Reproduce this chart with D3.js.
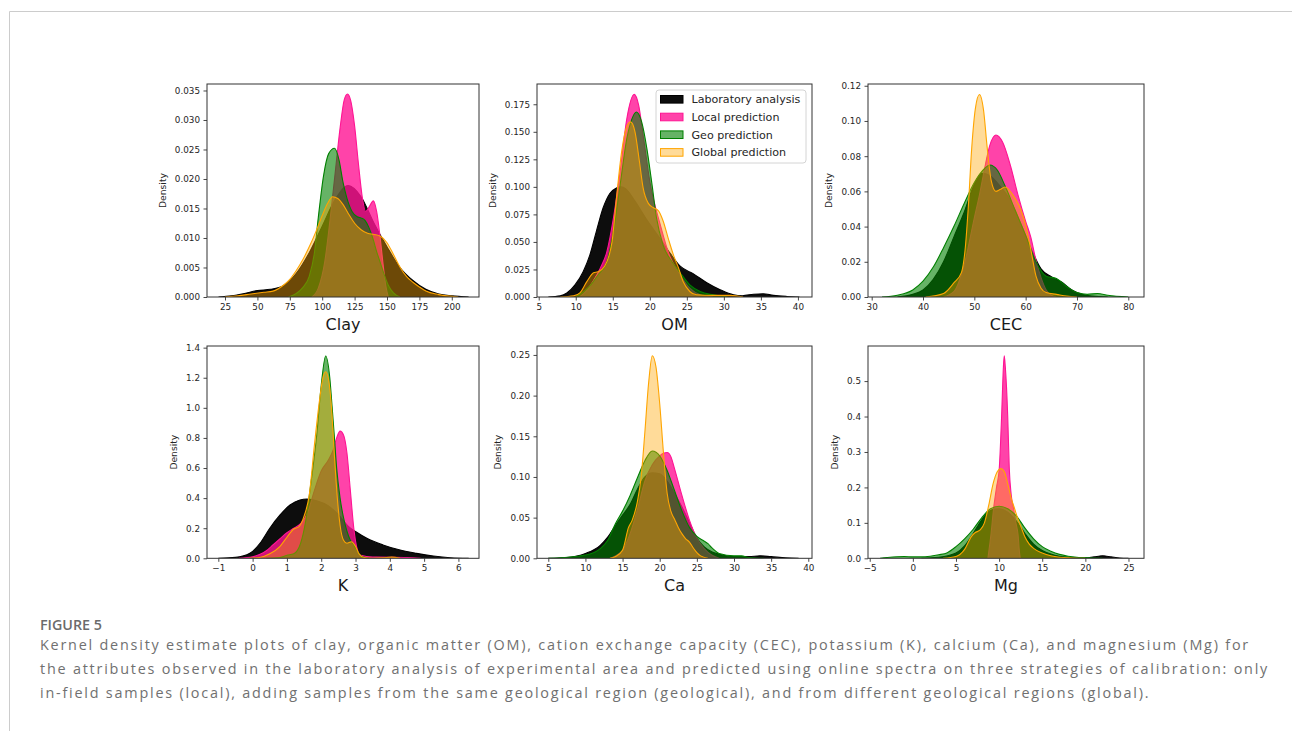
<!DOCTYPE html>
<html>
<head>
<meta charset="utf-8">
<script src="https://cdn.jsdelivr.net/npm/d3@7"></script>
<style>
  html, body { margin: 0; padding: 0; background: #fff; }
  svg { display: block; }
</style>
</head>
<body>
<svg id="chart" width="1292" height="731"></svg>
<script>
// ---------------- DATA ----------------
const seriesNames = ["Laboratory analysis", "Local prediction", "Geo prediction", "Global prediction"];
const attributes = ["Clay", "OM", "CEC", "K", "Ca", "Mg"];

// each array: [value, density]
const clayLab = [[20,0],[30,0.0002],[40,0.0006],[50,0.0011],[60,0.0013],[70,0.0019],[80,0.004],[90,0.0075],[100,0.012],[110,0.0165],[120,0.0189],[130,0.017],[140,0.0125],[150,0.0085],[160,0.005],[170,0.0028],[180,0.0013],[190,0.0005],[200,0.0002],[213,0]];
const clayLocal = [[92,0],[97,0.0015],[102,0.006],[106,0.013],[110,0.021],[114,0.029],[117,0.0334],[119.5,0.0344],[122,0.0333],[125,0.029],[128,0.0225],[131,0.0168],[133.5,0.0145],[136,0.0152],[139.5,0.0163],[142,0.0145],[144.5,0.0105],[147,0.0055],[149,0.002],[151,0]];
const clayGeo = [[74,0],[80,0.0006],[85,0.0016],[90,0.0035],[94,0.0075],[97,0.0135],[101,0.0205],[105,0.0243],[109.5,0.0252],[113,0.0232],[116,0.0195],[119,0.0168],[123,0.0145],[127,0.0136],[130,0.0134],[133,0.013],[136,0.0118],[139,0.01],[142,0.0077],[145,0.0057],[148,0.0037],[151,0.002],[155,0.0007],[160,0]];
const clayGlobal = [[25,0],[35,0.0002],[45,0.0005],[55,0.0008],[62,0.001],[70,0.002],[75,0.003],[80,0.0045],[85,0.0063],[90,0.0085],[95,0.011],[100,0.0138],[104,0.0158],[108,0.017],[112,0.0167],[116,0.0157],[120,0.0142],[125,0.0125],[130,0.0114],[135,0.0108],[140,0.0106],[145,0.0103],[150,0.0092],[155,0.0072],[160,0.0051],[165,0.0035],[170,0.0025],[175,0.0017],[180,0.001],[190,0.0004],[205,0]];

const omLab = [[6.3,0],[7.9,0.001],[8.8,0.0036],[9.9,0.011],[11,0.023],[11.9,0.038],[12.8,0.06],[13.7,0.081],[14.6,0.094],[15.5,0.099],[16.1,0.1],[16.8,0.098],[18,0.087],[19.6,0.07],[21.4,0.053],[22.5,0.042],[24.1,0.028],[25.9,0.021],[27.7,0.013],[29.5,0.0066],[31.3,0.002],[32.5,0.0012],[34,0.0025],[35.3,0.003],[36.7,0.0015],[38.5,0.0005],[40.2,0]];
const omLocal = [[10.5,0],[11.5,0.006],[12.4,0.015],[13.3,0.026],[14.2,0.041],[15.1,0.072],[16,0.114],[16.9,0.162],[17.9,0.184],[18.5,0.174],[19.1,0.147],[20,0.105],[21.4,0.066],[22.7,0.037],[24.1,0.02],[25.4,0.008],[26.8,0.002],[28.5,0]];
const omGeo = [[10,0],[11.9,0.01],[13,0.02],[14.2,0.032],[15.1,0.06],[16,0.102],[16.9,0.144],[17.6,0.162],[18.2,0.168],[18.9,0.159],[19.6,0.135],[20.3,0.102],[20.9,0.072],[21.8,0.047],[23,0.032],[24.1,0.022],[25.4,0.011],[26.8,0.005],[28.6,0.002],[30.5,0]];
const omGlobal = [[7.9,0],[9.7,0.001],[10.6,0.004],[11.5,0.014],[12.4,0.022],[13,0.023],[13.9,0.028],[14.9,0.05],[15.5,0.09],[16.2,0.132],[16.9,0.155],[17.4,0.159],[18,0.15],[18.6,0.123],[19.1,0.099],[19.8,0.085],[20.5,0.081],[21.2,0.078],[21.8,0.069],[22.5,0.053],[23.2,0.038],[23.9,0.026],[24.5,0.014],[25.4,0.005],[26.3,0.002],[28.6,0.0015],[30.8,0.0015],[32.6,0]];

const cecLab = [[35,0],[38,0.0015],[40,0.004],[42,0.01],[44,0.02],[46,0.034],[48,0.048],[50,0.064],[51.5,0.0703],[53,0.069],[55,0.063],[57,0.055],[59,0.042],[61,0.028],[63,0.016],[65,0.0115],[67,0.0085],[69,0.004],[71,0.0015],[73,0.0005],[76,0]];
const cecLocal = [[44,0],[46,0.003],[48,0.018],[50,0.045],[51,0.058],[52,0.073],[53,0.086],[54.2,0.092],[55.5,0.088],[57,0.075],[58.5,0.058],[60,0.043],[61,0.034],[62,0.021],[63,0.011],[64,0.004],[65,0.001],[66,0]];
const cecGeo = [[32,0],[35,0.001],[38,0.004],[40,0.009],[42,0.017],[44,0.028],[46,0.04],[48,0.053],[50,0.065],[52,0.073],[53,0.075],[54.5,0.072],[56,0.063],[58,0.049],[60,0.035],[62,0.02],[64,0.0118],[66,0.0105],[68,0.006],[70,0.0025],[72,0.0015],[74,0.002],[76,0.001],[80,0]];
const cecGlobal = [[40.5,0],[44,0.002],[46,0.008],[47.5,0.014],[48.3,0.03],[48.8,0.05],[49.5,0.085],[50.2,0.107],[51,0.115],[51.8,0.106],[52.5,0.085],[53.3,0.066],[54.2,0.06],[55,0.061],[56,0.0625],[57.5,0.058],[59,0.05],[60,0.041],[61,0.027],[62,0.012],[63,0.005],[64,0.0025],[66,0.0015],[68,0.0005],[70,0]];

const kLab = [[-1,0],[-0.5,0.006],[-0.08,0.033],[0.215,0.1],[0.5,0.2],[0.8,0.288],[1.09,0.354],[1.38,0.388],[1.58,0.394],[1.87,0.383],[2.2,0.35],[2.5,0.29],[2.8,0.21],[3.0,0.178],[3.33,0.133],[3.8,0.089],[4.3,0.055],[4.78,0.033],[5.27,0.0155],[5.76,0.004],[6.3,0]];
const kLocal = [[-0.4,0],[0,0.01],[0.2,0.025],[0.4,0.05],[0.6,0.09],[0.8,0.13],[1.0,0.17],[1.2,0.2],[1.4,0.23],[1.6,0.3],[1.8,0.45],[2.0,0.58],[2.2,0.65],[2.35,0.72],[2.45,0.8],[2.55,0.845],[2.65,0.82],[2.75,0.7],[2.85,0.45],[2.95,0.2],[3.05,0.06],[3.15,0.02],[3.5,0.008],[4.0,0.007],[4.5,0.005],[4.9,0]];
const kGeo = [[0.4,0],[0.8,0.005],[1.0,0.02],[1.2,0.03],[1.4,0.1],[1.55,0.25],[1.7,0.5],[1.87,0.82],[2.0,1.15],[2.13,1.345],[2.25,1.2],[2.32,1.0],[2.38,0.82],[2.45,0.6],[2.55,0.4],[2.65,0.27],[2.75,0.18],[2.85,0.12],[2.95,0.09],[3.05,0.05],[3.2,0.01],[3.4,0]];
const kGlobal = [[-0.1,0],[0.2,0.005],[0.5,0.03],[0.8,0.08],[1.0,0.14],[1.2,0.195],[1.35,0.21],[1.5,0.28],[1.65,0.42],[1.8,0.75],[1.95,1.05],[2.05,1.2],[2.13,1.24],[2.22,1.18],[2.3,1.0],[2.38,0.7],[2.47,0.4],[2.55,0.22],[2.65,0.12],[2.75,0.1],[2.88,0.11],[3.0,0.08],[3.1,0.03],[3.25,0.005],[3.5,0],[3.8,0.003],[4.05,0.008],[4.3,0]];

const caLab = [[5,0],[7.5,0.001],[10,0.006],[12,0.016],[13,0.026],[14,0.04],[15,0.053],[16,0.066],[17,0.085],[18,0.1],[19,0.105],[20,0.104],[21,0.095],[22,0.08],[23,0.063],[24,0.044],[25,0.025],[26,0.014],[27,0.008],[28,0.005],[30,0.002],[32,0.002],[33.5,0.003],[35,0.002],[37,0.0005],[38.7,0]];
const caLocal = [[13.3,0],[15,0.01],[16,0.03],[17,0.06],[18,0.095],[19,0.115],[20,0.126],[20.5,0.129],[21,0.13],[21.5,0.125],[22,0.11],[23,0.077],[24,0.047],[25,0.025],[26,0.012],[27,0.004],[28,0]];
const caGeo = [[5,0],[7,0.001],[10,0.004],[12,0.012],[13,0.022],[14,0.042],[15,0.058],[16,0.077],[17,0.099],[18,0.12],[19,0.132],[20,0.126],[21,0.108],[22,0.083],[23,0.058],[24,0.038],[25,0.027],[26,0.021],[26.5,0.018],[27,0.013],[28,0.006],[30,0.003],[31,0.003],[32,0.001],[34,0]];
const caGlobal = [[13.3,0],[14,0.002],[15,0.01],[15.8,0.038],[16.3,0.047],[17,0.07],[17.5,0.1],[18,0.155],[18.5,0.215],[19,0.249],[19.5,0.235],[20,0.19],[20.5,0.13],[21,0.08],[21.5,0.058],[22,0.048],[22.5,0.038],[23,0.03],[23.5,0.024],[24,0.02],[24.5,0.013],[25,0.007],[25.5,0.003],[26.5,0]];

const mgLab = [[1,0],[3,0.003],[5,0.015],[6,0.035],[7,0.07],[7.6,0.094],[8.4,0.122],[9.1,0.136],[10,0.14],[11,0.13],[12,0.105],[13,0.07],[14,0.04],[15,0.022],[16,0.012],[17,0.006],[18,0.003],[19,0.001],[20,0.001],[21,0.004],[22,0.007],[23,0.004],[24,0.001],[25,0]];
const mgLocal = [[8.7,0],[9.05,0.066],[9.36,0.14],[9.7,0.2],[10.02,0.254],[10.29,0.4],[10.5,0.54],[10.6,0.571],[10.72,0.54],[11.0,0.4],[11.18,0.254],[11.4,0.18],[11.68,0.14],[11.95,0.1],[12.2,0.066],[12.35,0.02],[12.45,0]];
const mgGeo = [[-3.8,0],[-3,0.002],[-1,0.005],[0,0.004],[1,0.004],[2,0.006],[3,0.01],[4,0.016],[5,0.033],[6,0.055],[7,0.082],[8,0.115],[9,0.14],[10,0.147],[11,0.14],[12,0.12],[13,0.085],[14,0.055],[15,0.033],[16,0.02],[17,0.011],[18,0.006],[19,0.003],[20,0.002],[21,0.0005],[22,0]];
const mgGlobal = [[3.5,0],[5,0.005],[6,0.025],[6.8,0.062],[7.2,0.072],[7.8,0.08],[8.3,0.1],[8.8,0.15],[9.3,0.21],[9.8,0.245],[10.2,0.253],[10.6,0.245],[11.0,0.21],[11.4,0.17],[11.8,0.14],[12.2,0.11],[12.6,0.085],[13,0.06],[13.5,0.04],[14,0.028],[15,0.015],[16,0.007],[17,0.003],[18.5,0.001],[20,0]];

// tick labels
const clayXTicks = [25,50,75,100,125,150,175,200];
const clayYTicks = [0,0.005,0.010,0.015,0.020,0.025,0.030,0.035];
const omXTicks = [5,10,15,20,25,30,35,40];
const omYTicks = [0,0.025,0.050,0.075,0.100,0.125,0.150,0.175];
const cecXTicks = [30,40,50,60,70,80];
const cecYTicks = [0,0.02,0.04,0.06,0.08,0.10,0.12];
const kXTicks = [-1,0,1,2,3,4,5,6];
const kYTicks = [0,0.2,0.4,0.6,0.8,1.0,1.2,1.4];
const caXTicks = [5,10,15,20,25,30,35,40];
const caYTicks = [0,0.05,0.10,0.15,0.20,0.25];
const mgXTicks = [-5,0,5,10,15,20,25];
const mgYTicks = [0,0.1,0.2,0.3,0.4,0.5];

const captionHead = "FIGURE 5";
const captionLines = [
  "Kernel density estimate plots of clay, organic matter (OM), cation exchange capacity (CEC), potassium (K), calcium (Ca), and magnesium (Mg) for",
  "the attributes observed in the laboratory analysis of experimental area and predicted using online spectra on three strategies of calibration: only",
  "in-field samples (local), adding samples from the same geological region (geological), and from different geological regions (global)."
];

// ---------------- LAYOUT / STYLE ----------------
const styles = [
  { color: "#000000", alpha: 0.95 },
  { color: "#ff1493", alpha: 0.8 },
  { color: "#008000", alpha: 0.6 },
  { color: "#ffa500", alpha: 0.4 }
];

const panels = [
  { title: attributes[0], series: [clayLab, clayLocal, clayGeo, clayGlobal], xDom: [11.1, 221], yMax: 0.0361, xTicks: clayXTicks, yTicks: clayYTicks, yFmt: ".3f", box: [207, 84, 479, 297] },
  { title: attributes[1], series: [omLab, omLocal, omGeo, omGlobal], xDom: [4.77, 41.9], yMax: 0.1934, xTicks: omXTicks, yTicks: omYTicks, yFmt: ".3f", box: [537, 84, 812, 297], legend: true },
  { title: attributes[2], series: [cecLab, cecLocal, cecGeo, cecGlobal], xDom: [29.28, 83.06], yMax: 0.121, xTicks: cecXTicks, yTicks: cecYTicks, yFmt: ".2f", box: [868, 84, 1144, 297] },
  { title: attributes[3], series: [kLab, kLocal, kGeo, kGlobal], xDom: [-1.33, 6.6], yMax: 1.411, xTicks: kXTicks, yTicks: kYTicks, yFmt: ".1f", box: [207, 346, 479, 558.3] },
  { title: attributes[4], series: [caLab, caLocal, caGeo, caGlobal], xDom: [3.48, 40.5], yMax: 0.261, xTicks: caXTicks, yTicks: caYTicks, yFmt: ".2f", box: [537, 346, 812, 558.3] },
  { title: attributes[5], series: [mgLab, mgLocal, mgGeo, mgGlobal], xDom: [-5.2, 26.8], yMax: 0.599, xTicks: mgXTicks, yTicks: mgYTicks, yFmt: ".1f", box: [868, 346, 1144, 558.3] }
];

const svg = d3.select("#chart");
const FONT = "'DejaVu Sans', sans-serif";
const AXIS = "#333333";

// page frame
svg.append("line").attr("x1", 9.5).attr("x2", 1292).attr("y1", 11.5).attr("y2", 11.5).attr("stroke", "#cccccc").attr("stroke-width", 1);
svg.append("line").attr("x1", 9.5).attr("x2", 9.5).attr("y1", 11.5).attr("y2", 731).attr("stroke", "#cccccc").attr("stroke-width", 1);

panels.forEach((p, pi) => {
  const [x0, y0, x1, y1] = p.box;
  const x = d3.scaleLinear().domain(p.xDom).range([x0, x1]);
  const y = d3.scaleLinear().domain([0, p.yMax]).range([y1, y0]);
  const g = svg.append("g");

  const clipId = "clip" + pi;
  g.append("clipPath").attr("id", clipId).append("rect")
    .attr("x", x0).attr("y", y0).attr("width", x1 - x0).attr("height", y1 - y0);

  const area = d3.area().x(d => x(d[0])).y0(y(0)).y1(d => y(d[1])).curve(d3.curveMonotoneX);
  const line = d3.line().x(d => x(d[0])).y(d => y(d[1])).curve(d3.curveMonotoneX);

  const plot = g.append("g").attr("clip-path", `url(#${clipId})`);
  p.series.forEach((s, si) => {
    const st = styles[si];
    plot.append("path").datum(s).attr("d", area)
      .attr("fill", st.color).attr("fill-opacity", st.alpha).attr("stroke", "none");
    plot.append("path").datum(s).attr("d", line)
      .attr("fill", "none").attr("stroke", st.color).attr("stroke-width", 1.1).attr("stroke-linejoin", "round");
  });

  // axes
  const xAxis = d3.axisBottom(x).tickValues(p.xTicks).tickSize(3.5).tickPadding(3).tickFormat(d3.format("d"));
  const yAxis = d3.axisLeft(y).tickValues(p.yTicks).tickSize(3.5).tickPadding(3.5).tickFormat(d3.format(p.yFmt));

  const gx = g.append("g").attr("transform", `translate(0,${y1})`).call(xAxis);
  const gy = g.append("g").attr("transform", `translate(${x0},0)`).call(yAxis);
  [gx, gy].forEach(ax => {
    ax.select(".domain").remove();
    ax.selectAll(".tick line").attr("stroke", AXIS).attr("stroke-width", 0.9);
    ax.selectAll(".tick text").attr("fill", "#262626").attr("font-family", FONT).attr("font-size", 8.8);
  });

  // spines
  g.append("rect").attr("x", x0).attr("y", y0).attr("width", x1 - x0).attr("height", y1 - y0)
    .attr("fill", "none").attr("stroke", AXIS).attr("stroke-width", 1);

  // y label (placed left of the widest tick label)
  let minX = 0;
  gy.selectAll(".tick text").each(function () {
    const b = this.getBBox();
    minX = Math.min(minX, b.x);
  });
  const cx = x0 - 3.5 + minX - 9;
  g.append("text").attr("transform", `translate(${cx + 3.2},${(y0 + y1) / 2}) rotate(-90)`)
    .attr("text-anchor", "middle").attr("font-family", FONT).attr("font-size", 9.2)
    .attr("fill", "#262626").text("Density");

  // x title
  g.append("text").attr("x", (x0 + x1) / 2).attr("y", y1 + 33)
    .attr("text-anchor", "middle").attr("font-family", FONT).attr("font-size", 16)
    .attr("fill", "#1a1a1a").text(p.title);

  // legend
  if (p.legend) {
    const lg = g.append("g");
    lg.append("rect").attr("x", 656).attr("y", 90).attr("width", 150).attr("height", 73)
      .attr("rx", 3).attr("fill", "#ffffff").attr("fill-opacity", 0.8)
      .attr("stroke", "#d4d4d4").attr("stroke-width", 1);
    seriesNames.forEach((name, i) => {
      const cy = 99.3 + i * 17.7;
      const st = styles[i];
      lg.append("rect").attr("x", 660.5).attr("y", cy - 3.8).attr("width", 22.5).attr("height", 7.6)
        .attr("fill", st.color).attr("fill-opacity", st.alpha)
        .attr("stroke", st.color).attr("stroke-width", 1);
      lg.append("text").attr("x", 691.5).attr("y", cy).attr("dy", "0.36em")
        .attr("font-family", FONT).attr("font-size", 11.1).attr("fill", "#262626").text(name);
    });
  }
});

// caption
const CAP = "'Open Sans', 'Lato', sans-serif";
const head = svg.append("text").attr("x", 40).attr("y", 630)
  .attr("font-family", CAP).attr("font-weight", 600).attr("font-size", 13.5)
  .attr("fill", "#6b6b6b").text(captionHead);
const headW = head.node().getComputedTextLength();
head.attr("font-size", 13.5 * 62 / headW);

const baselines = [649.5, 673.5, 698];
const CAP_FS = 14.4;
const capTexts = captionLines.map((t, i) => svg.append("text").attr("x", 40).attr("y", baselines[i])
  .attr("font-family", CAP).attr("font-size", CAP_FS).attr("fill", "#707070").text(t));
// widen letter spacing so line 1 spans the same width as in the reference
const w0 = capTexts[0].node().getComputedTextLength();
const ls = (1210 - w0) / captionLines[0].length;
capTexts.forEach(t => t.attr("letter-spacing", ls));
</script>
</body>
</html>
